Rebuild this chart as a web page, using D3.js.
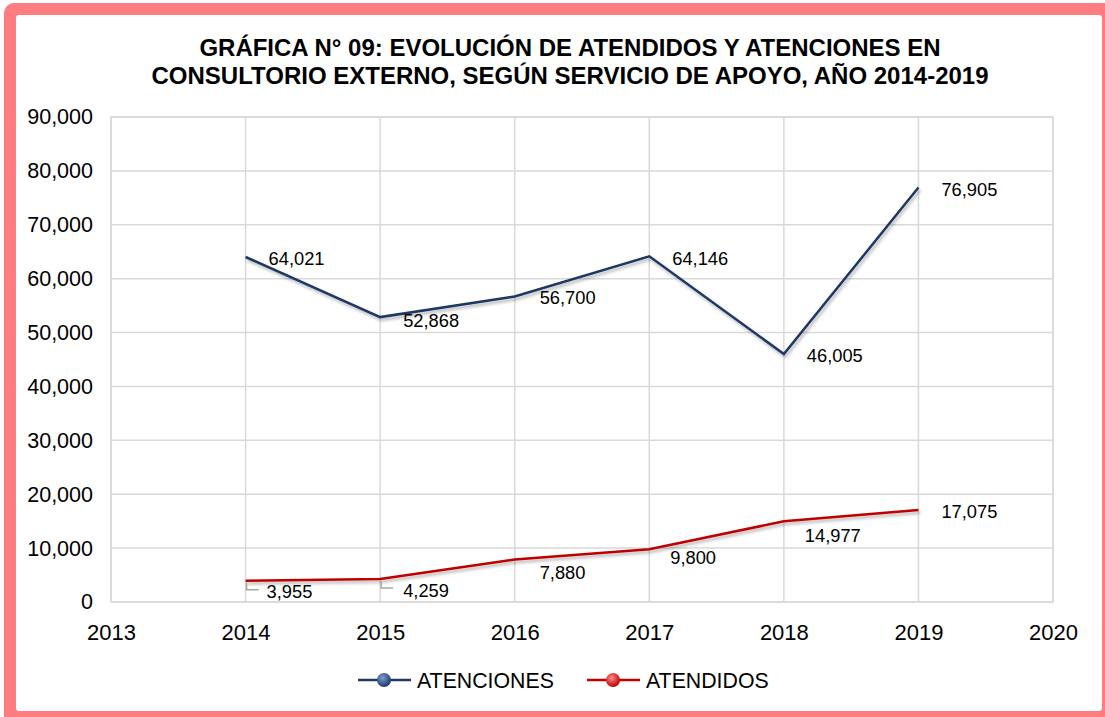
<!DOCTYPE html>
<html>
<head>
<meta charset="utf-8">
<script src="https://cdn.jsdelivr.net/npm/d3@7"></script>
<style>
  html, body { margin: 0; padding: 0; background: #fff; }
  svg { display: block; font-family: Arial, "Liberation Sans", sans-serif; }
</style>
</head>
<body>
<svg id="chart" width="1105" height="717"></svg>
<script>
// ── Data ──────────────────────────────────────────────────────────────────────
const years = [2014, 2015, 2016, 2017, 2018, 2019];
const atenciones = [64021, 52868, 56700, 64146, 46005, 76905];
const atendidos = [3955, 4259, 7880, 9800, 14977, 17075];
const xTicks = [2013, 2014, 2015, 2016, 2017, 2018, 2019, 2020];
const yTicks = [0, 10000, 20000, 30000, 40000, 50000, 60000, 70000, 80000, 90000];
const titleLines = [
  'GRÁFICA N° 09: EVOLUCIÓN DE ATENDIDOS Y ATENCIONES EN',
  'CONSULTORIO EXTERNO, SEGÚN SERVICIO DE APOYO, AÑO 2014-2019'
];

const series = [
  { name: 'ATENCIONES', values: atenciones, color: '#1f3864', light: '#7b9bd4' },
  { name: 'ATENDIDOS',  values: atendidos,  color: '#c00000', light: '#ff8c8c' },
];

// label offsets (dx, dy of label centre from its point), as placed in the reference
const labelPos = {
  ATENCIONES: [[23, 2], [23, 3], [25, 1.5], [23, 2], [23, 1], [23, 1.5]],
  ATENDIDOS:  [[21, 11], [23, 11], [25, 12.5], [21, 8], [21, 14], [23, 2]],
};

// ── Layout ────────────────────────────────────────────────────────────────────
const svg = d3.select('#chart');
const W = 1105, H = 717;
const plot = { left: 111, top: 117, right: 1053, bottom: 602 };

const x = d3.scaleLinear().domain([2013, 2020]).range([plot.left, plot.right]);
const y = d3.scaleLinear().domain([0, 90000]).range([plot.bottom, plot.top]);

const defs = svg.append('defs');
const shadow = defs.append('filter').attr('id', 'shadow')
  .attr('x', '-5%').attr('y', '-5%').attr('width', '110%').attr('height', '120%');
shadow.append('feDropShadow')
  .attr('dx', 1.5).attr('dy', 2.5).attr('stdDeviation', 1.5)
  .attr('flood-color', '#000').attr('flood-opacity', 0.3);

series.forEach((s, i) => {
  const g = defs.append('radialGradient').attr('id', 'ball' + i)
    .attr('cx', '40%').attr('cy', '35%').attr('r', '65%');
  g.append('stop').attr('offset', '0%').attr('stop-color', s.light);
  g.append('stop').attr('offset', '100%').attr('stop-color', s.color);
});

// ── Frame ─────────────────────────────────────────────────────────────────────
svg.append('rect').attr('width', W).attr('height', H).attr('fill', '#fff');
svg.append('rect')
  .attr('x', 4).attr('y', 3).attr('width', W + 20).attr('height', H + 20)
  .attr('rx', 10).attr('fill', '#ff7c80');
svg.append('rect')
  .attr('x', 16).attr('y', 15).attr('width', W - 16 - 3).attr('height', H - 15 - 6)
  .attr('rx', 3).attr('fill', '#fff');

// ── Title ─────────────────────────────────────────────────────────────────────
svg.append('g').selectAll('text').data(titleLines).join('text')
  .attr('x', 570).attr('y', (d, i) => 56 + i * 28)
  .attr('text-anchor', 'middle')
  .attr('font-size', '24px').attr('font-weight', 'bold').attr('fill', '#000')
  .text(d => d);

// ── Grid ──────────────────────────────────────────────────────────────────────
svg.append('rect')
  .attr('x', plot.left).attr('y', plot.top)
  .attr('width', plot.right - plot.left).attr('height', plot.bottom - plot.top)
  .attr('fill', '#fff').attr('stroke', '#d9d9d9').attr('stroke-width', 1.5);

const grid = svg.append('g').attr('stroke', '#d9d9d9').attr('stroke-width', 1.5);
grid.selectAll('.gy').data(yTicks).join('line')
  .attr('x1', plot.left).attr('x2', plot.right)
  .attr('y1', d => y(d)).attr('y2', d => y(d));
grid.selectAll('.gx').data(xTicks).join('line')
  .attr('y1', plot.top).attr('y2', plot.bottom)
  .attr('x1', d => x(d)).attr('x2', d => x(d));

// ── Axes ──────────────────────────────────────────────────────────────────────
const fmt = d3.format(',');

const yAxis = svg.append('g')
  .attr('transform', `translate(${plot.left},0)`)
  .call(d3.axisLeft(y).tickValues(yTicks).tickFormat(fmt).tickSize(0).tickPadding(18));
yAxis.select('.domain').remove();
yAxis.selectAll('text')
  .attr('font-family', 'Arial, "Liberation Sans", sans-serif')
  .attr('font-size', '21.5px').attr('fill', '#000');

const xAxis = svg.append('g')
  .attr('transform', `translate(0,${plot.bottom})`)
  .call(d3.axisBottom(x).tickValues(xTicks).tickFormat(d3.format('d')).tickSize(0).tickPadding(22));
xAxis.select('.domain').remove();
xAxis.selectAll('text')
  .attr('font-family', 'Arial, "Liberation Sans", sans-serif')
  .attr('font-size', '22px').attr('fill', '#000');

// ── Lines ─────────────────────────────────────────────────────────────────────
const line = d3.line().x(d => x(d[0])).y(d => y(d[1]));

series.forEach(s => {
  const pts = years.map((yr, i) => [yr, s.values[i]]);
  svg.append('path')
    .datum(pts)
    .attr('d', line)
    .attr('fill', 'none')
    .attr('stroke', s.color)
    .attr('stroke-width', 2.5)
    .attr('stroke-linejoin', 'miter')
    .attr('filter', 'url(#shadow)');
});

// leader lines for the two labels that sit away from their points
const leaders = svg.append('g').attr('stroke', '#a6a6a6').attr('stroke-width', 1.5).attr('fill', 'none');
[0, 1].forEach(i => {
  const px = x(years[i]) + 1, py = y(atendidos[i]) + 2;
  leaders.append('path').attr('d', `M${px},${py} V${py + 7} H${px + 12}`);
});

// ── Data labels ───────────────────────────────────────────────────────────────
series.forEach(s => {
  svg.append('g').selectAll('text').data(years).join('text')
    .attr('x', (d, i) => x(d) + labelPos[s.name][i][0])
    .attr('y', (d, i) => y(s.values[i]) + labelPos[s.name][i][1] + 6.5)
    .attr('font-size', '18.3px').attr('fill', '#000')
    .text((d, i) => fmt(s.values[i]));
});

// ── Legend ────────────────────────────────────────────────────────────────────
const legendX = [358, 587];
const legend = svg.append('g').selectAll('g').data(series).join('g')
  .attr('transform', (d, i) => `translate(${legendX[i]},680)`);
legend.append('line')
  .attr('x1', 0).attr('x2', 53).attr('y1', 0).attr('y2', 0)
  .attr('stroke', d => d.color).attr('stroke-width', 2.5);
legend.append('circle')
  .attr('cx', 26).attr('cy', 0).attr('r', 7)
  .attr('fill', (d, i) => `url(#ball${i})`);
legend.append('text')
  .attr('x', 59).attr('y', 7.5)
  .attr('font-size', '21.3px').attr('fill', '#000')
  .text(d => d.name);
</script>
</body>
</html>
